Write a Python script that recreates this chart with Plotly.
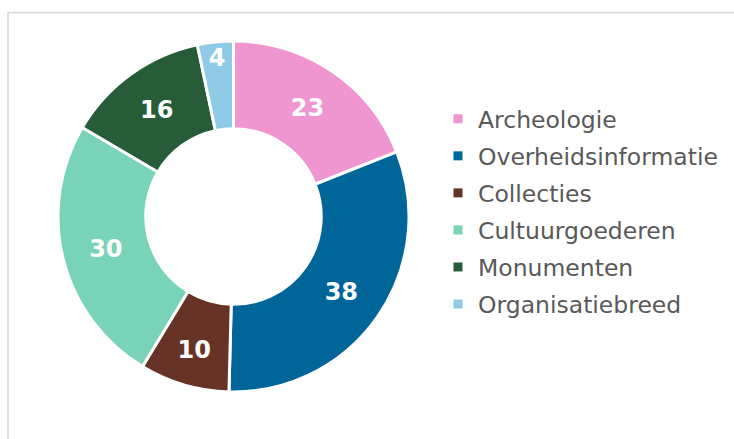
import plotly.graph_objects as go

categories = ["Archeologie", "Overheidsinformatie", "Collecties", "Cultuurgoederen", "Monumenten", "Organisatiebreed"]
values = [23, 38, 10, 30, 16, 4]
colors = ["#EF95CF", "#006699", "#673326", "#78D3B8", "#265C37", "#8FCAE7"]

W, H = 734, 439
cx, cy, r = 233.5, 216.5, 175.5
FONT = "Verdana, DejaVu Sans, sans-serif"

fig = go.Figure()
fig.add_trace(go.Pie(
    labels=categories,
    values=values,
    sort=False,
    direction="clockwise",
    rotation=0,
    hole=0.5,
    marker=dict(colors=colors, line=dict(color="white", width=3)),
    textinfo="value",
    textposition="inside",
    insidetextorientation="horizontal",
    textfont=dict(family=FONT, size=24, color="white", weight="bold"),
    domain=dict(x=[(cx - r) / W, (cx + r) / W], y=[(H - cy - r) / H, (H - cy + r) / H]),
    hoverinfo="label+value",
    showlegend=False,
))

# legend entries (one per category)
for name, col in zip(categories, colors):
    fig.add_trace(go.Scatter(
        x=[None], y=[None], mode="markers", name=name, legendgroup=name,
        marker=dict(symbol="square", size=9, color=col),
        hoverinfo="skip", showlegend=True,
    ))

fig.update_layout(
    width=W, height=H,
    margin=dict(l=0, r=0, t=0, b=0),
    paper_bgcolor="white",
    plot_bgcolor="white",
    xaxis=dict(visible=False),
    yaxis=dict(visible=False),
    showlegend=True,
    uniformtext=dict(minsize=24, mode="show"),
    legend=dict(
        x=438 / W, y=(H - 97) / H, xanchor="left", yanchor="top",
        font=dict(family=FONT, size=23.5, color="#595959"),
        itemwidth=30,
        tracegroupgap=3.5,
        bgcolor="rgba(0,0,0,0)",
    ),
    shapes=[
        dict(type="line", xref="paper", yref="paper",
             x0=8 / W, x1=1.0, y0=1 - 12.5 / H, y1=1 - 12.5 / H,
             line=dict(color="#D6D6D6", width=1.5), layer="below"),
        dict(type="line", xref="paper", yref="paper",
             x0=8 / W, x1=8 / W, y0=0, y1=1 - 12.5 / H,
             line=dict(color="#D6D6D6", width=1.5), layer="below"),
    ],
)

fig.write_html("out.html", config={"displayModeBar": False},
               post_script="document.body.style.margin='0';")
